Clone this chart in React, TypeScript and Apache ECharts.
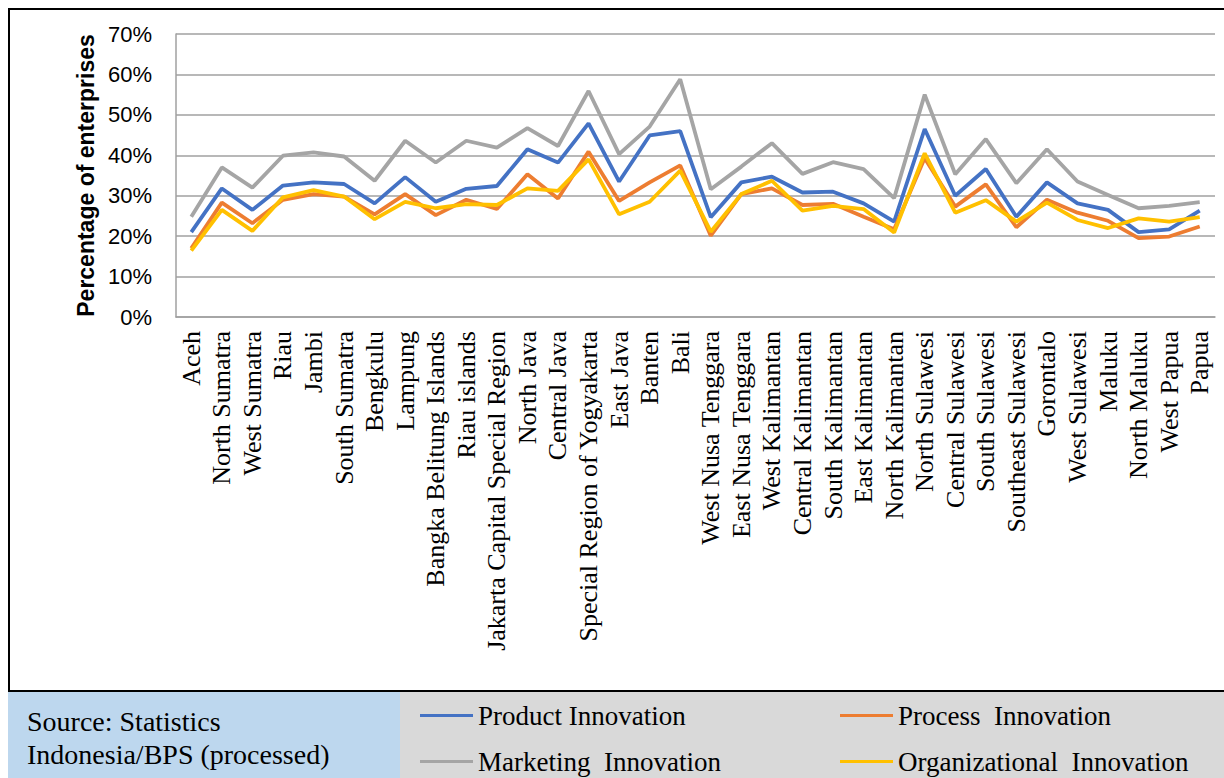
import React, { useEffect, useRef } from "react";
import * as echarts from "echarts";

const categories = [
  "Aceh", "North Sumatra", "West Sumatra", "Riau", "Jambi", "South Sumatra", "Bengkulu", "Lampung",
  "Bangka Belitung Islands", "Riau islands", "Jakarta Capital Special Region", "North Java", "Central Java",
  "Special Region of Yogyakarta", "East Java", "Banten", "Bali", "West Nusa Tenggara", "East Nusa Tenggara",
  "West Kalimantan", "Central Kalimantan", "South Kalimantan", "East Kalimantan", "North Kalimantan",
  "North Sulawesi", "Central Sulawesi", "South Sulawesi", "Southeast Sulawesi", "Gorontalo", "West Sulawesi",
  "Maluku", "North Maluku", "West Papua", "Papua",
];

const product = [21.0, 31.8, 26.5, 32.5, 33.3, 32.9, 28.1, 34.6, 28.5, 31.7, 32.4, 41.5, 38.2, 47.9, 33.5, 44.9, 46.0,
  24.7, 33.3, 34.7, 30.8, 31.0, 28.1, 23.6, 46.5, 30.0, 36.6, 24.8, 33.3, 28.1, 26.5, 21.0, 21.7, 26.3];
const processInn = [17.0, 28.3, 23.2, 29.0, 30.4, 29.8, 25.4, 30.4, 25.2, 29.0, 26.7, 35.3, 29.3, 40.9, 28.7, 33.3, 37.5,
  20.1, 30.4, 31.8, 27.7, 28.0, 24.8, 21.7, 39.3, 27.3, 32.8, 22.2, 29.0, 25.8, 23.8, 19.5, 19.9, 22.4];
const marketing = [24.8, 37.0, 32.0, 39.9, 40.7, 39.7, 33.7, 43.6, 38.2, 43.6, 41.9, 46.7, 42.3, 55.9, 40.3, 47.1, 58.8,
  31.6, 37.2, 43.0, 35.4, 38.3, 36.6, 29.4, 55.0, 35.3, 44.0, 33.1, 41.5, 33.5, 30.2, 26.9, 27.5, 28.4];
const organizational = [16.4, 26.5, 21.3, 29.6, 31.4, 29.8, 24.2, 28.5, 26.9, 27.9, 27.7, 31.8, 31.2, 39.0, 25.4, 28.5, 36.2,
  21.1, 30.4, 33.7, 26.3, 27.5, 26.7, 20.9, 40.5, 25.8, 28.9, 23.6, 28.3, 24.0, 22.0, 24.4, 23.6, 24.7];

const seriesNames = ["Product Innovation", "Process  Innovation", "Marketing  Innovation", "Organizational  Innovation"];
const seriesColors = ["#4472C4", "#ED7D31", "#A5A5A5", "#FFC000"];
const sourceLines = ["Source: Statistics", "Indonesia/BPS (processed)"];

const SERIF = "'Liberation Serif', 'Times New Roman', serif";
const SANS = "'Liberation Sans', Arial, sans-serif";

// legend slots: [left, top] for each series
const legendSlots = [
  [415, 697],
  [835, 697],
  [415, 743],
  [835, 743],
];

export default function App() {
  const ref = useRef<HTMLDivElement>(null);

  useEffect(() => {
    if (!ref.current) return;
    const chart = echarts.init(ref.current, null, { renderer: "svg" });
    const values = [product, processInn, marketing, organizational];

    const legendText = { fontFamily: SERIF, fontSize: 27, color: "#000", lineHeight: 26 };

    chart.setOption({
      animation: false,
      backgroundColor: "#ffffff",
      grid: { left: 176, right: 9, top: 34, bottom: 461, containLabel: false },
      xAxis: {
        type: "category",
        data: categories,
        boundaryGap: true,
        axisLine: { show: true, lineStyle: { color: "#A0A0A0", width: 1.5 } },
        axisTick: { show: false },
        axisLabel: {
          rotate: 90,
          interval: 0,
          margin: 14,
          fontFamily: SERIF,
          fontSize: 26,
          color: "#000",
        },
      },
      yAxis: {
        type: "value",
        min: 0,
        max: 70,
        interval: 10,
        name: "Percentage of enterprises",
        nameLocation: "middle",
        nameGap: 76,
        nameTextStyle: { fontFamily: SANS, fontSize: 23, fontWeight: "bold", color: "#000" },
        axisLine: { show: true, lineStyle: { color: "#A0A0A0", width: 1.5 } },
        axisTick: { show: false },
        axisLabel: { formatter: "{value}%", margin: 24, fontFamily: SANS, fontSize: 22, color: "#000" },
        splitLine: { show: true, lineStyle: { color: "#A0A0A0", width: 1.5 } },
      },
      legend: seriesNames.map((name, i) => ({
        orient: "horizontal",
        left: legendSlots[i][0],
        top: legendSlots[i][1],
        itemWidth: 53,
        itemHeight: 3,
        icon: "rect",
        textStyle: legendText,
        data: [name],
      })),
      graphic: [
        {
          type: "rect",
          silent: true,
          z: -10,
          shape: { x: 9, y: 9, width: 1230, height: 682 },
          style: { fill: "none", stroke: "#000", lineWidth: 2 },
        },
        {
          type: "rect",
          silent: true,
          z: -10,
          shape: { x: 8, y: 692, width: 392, height: 86 },
          style: { fill: "#BDD7EE" },
        },
        {
          type: "rect",
          silent: true,
          z: -10,
          shape: { x: 400, y: 692, width: 824, height: 86 },
          style: { fill: "#D9D9D9" },
        },
        {
          type: "text",
          silent: true,
          x: 27,
          y: 721,
          style: { text: sourceLines[0], font: `28px ${SERIF}`, fill: "#000", verticalAlign: "middle", align: "left" },
        },
        {
          type: "text",
          silent: true,
          x: 27,
          y: 754,
          style: { text: sourceLines[1], font: `28px ${SERIF}`, fill: "#000", verticalAlign: "middle", align: "left" },
        },
      ],
      series: seriesNames.map((name, i) => ({
        name,
        type: "line",
        data: values[i],
        symbol: "none",
        color: seriesColors[i],
        lineStyle: { color: seriesColors[i], width: 3.8 },
        z: 2 + i,
      })),
    });

    return () => chart.dispose();
  }, []);

  return (
    <div
      ref={ref}
      style={{ position: "fixed", left: 0, top: 0, width: 1224, height: 778 }}
    />
  );
}
